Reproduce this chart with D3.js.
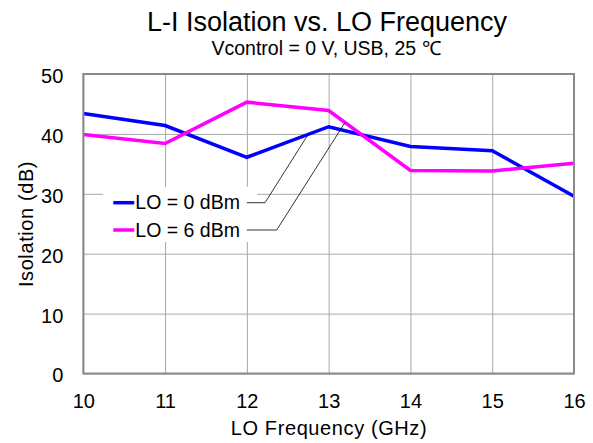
<!DOCTYPE html>
<meta charset="utf-8">
<style>
body { margin: 0; background: #fff; }
svg text { font-family: "Liberation Sans", Arial, sans-serif; fill: #000; }
.grid line { stroke: #a8a8a8; stroke-width: 1px; }
.grid path { display: none; }
.tick-labels path, .tick-labels line { display: none; }
.line { fill: none; stroke-width: 3.5px; stroke-linejoin: miter; }
</style>
<body>
<script src="https://cdn.jsdelivr.net/npm/d3@7"></script>
<script>

// data
var freqs = [10, 11, 12, 13, 14, 15, 16];
var lo0dBm = [43.4, 41.4, 36.1, 41.2, 37.9, 37.2, 29.6];
var lo6dBm = [39.9, 38.4, 45.3, 43.9, 33.9, 33.8, 35.1];
var yTicks = [0, 10, 20, 30, 40, 50];
var seriesNames = ["LO = 0 dBm", "LO = 6 dBm"];
var seriesColors = ["#0000ff", "#ff00ff"];
// where each legend leader touches its line (GHz)
var leaderAt = [12.75, 13.2];

var margin = {top: 74, right: 19, bottom: 69.5, left: 83.3},
    width = 593 - margin.left - margin.right,
    height = 443 - margin.top - margin.bottom;

var x = d3.scaleLinear().domain([10, 16]).range([0, width]);
var y = d3.scaleLinear().domain([0, 50]).range([height, 0]);

var svg = d3.select("body").append("svg")
    .attr("width", 593)
    .attr("height", 443);

// titles
svg.append("text")
    .attr("x", 327).attr("y", 30.5)
    .attr("text-anchor", "middle")
    .style("font-size", "27px")
    .text("L-I Isolation vs. LO Frequency");

svg.append("text")
    .attr("x", 326).attr("y", 55)
    .attr("text-anchor", "middle")
    .style("font-size", "19.5px")
    .text("Vcontrol = 0 V, USB, 25 \u2103");

var g = svg.append("g")
    .attr("transform", "translate(" + margin.left + "," + margin.top + ")");

// gridlines
g.append("g")
    .attr("class", "grid")
    .call(d3.axisLeft(y).tickValues(yTicks).tickSize(-width).tickFormat(""));

g.append("g")
    .attr("class", "grid")
    .attr("transform", "translate(0," + height + ")")
    .call(d3.axisBottom(x).tickValues(freqs).tickSize(height).tickFormat(""))
    .selectAll("line").attr("y2", -height);

// tick labels
g.append("g")
    .attr("class", "tick-labels")
    .call(d3.axisLeft(y).tickValues(yTicks).tickSize(0).tickPadding(20))
    .selectAll("text")
    .style("font-size", "20px")
    .attr("dy", "0.42em");

g.append("g")
    .attr("class", "tick-labels")
    .attr("transform", "translate(0," + height + ")")
    .call(d3.axisBottom(x).tickValues(freqs).tickSize(0).tickPadding(20).tickFormat(d3.format("d")))
    .selectAll("text")
    .style("font-size", "20px")
    .attr("dy", "0.71em");

// axis titles
svg.append("text")
    .attr("x", 329).attr("y", 435)
    .attr("text-anchor", "middle")
    .style("font-size", "20px")
    .style("letter-spacing", "0.6px")
    .text("LO Frequency (GHz)");

svg.append("text")
    .attr("transform", "translate(33,224) rotate(-90)")
    .attr("text-anchor", "middle")
    .style("font-size", "20px")
    .style("letter-spacing", "0.6px")
    .text("Isolation (dB)");

// series
var series = [lo0dBm, lo6dBm];
var line = d3.line()
    .x(function(d, i) { return x(freqs[i]); })
    .y(function(d) { return y(d); });

g.selectAll(".line")
    .data(series)
    .enter().append("path")
    .attr("class", "line")
    .style("stroke", function(d, i) { return seriesColors[i]; })
    .attr("d", line);

// plot border
g.append("rect")
    .attr("width", width).attr("height", height)
    .attr("fill", "none")
    .attr("stroke", "#8a8a8a")
    .attr("stroke-width", 2);

// legend
var legend = g.append("g");
legend.append("rect")
    .attr("x", 20).attr("y", 113)
    .attr("width", 154).attr("height", 55)
    .attr("fill", "#fff");

var rowY = [128.7, 156];
var elbowX = [181.7, 193.4];

function valueAt(vals, f) {
    var i = Math.min(Math.floor(f - freqs[0]), vals.length - 2);
    var t = f - freqs[i];
    return vals[i] + t * (vals[i + 1] - vals[i]);
}

seriesNames.forEach(function(name, i) {
    legend.append("line")
        .attr("x1", 30).attr("x2", 51)
        .attr("y1", rowY[i]).attr("y2", rowY[i])
        .attr("stroke", seriesColors[i])
        .attr("stroke-width", 3.5);
    legend.append("text")
        .attr("x", 52).attr("y", rowY[i] + 6.7)
        .style("font-size", "19.5px")
        .text(name);
    var px = x(leaderAt[i]), py = y(valueAt(series[i], leaderAt[i]));
    legend.append("polyline")
        .attr("points", [[163.5, rowY[i]], [elbowX[i], rowY[i]], [px, py]].join(" "))
        .attr("fill", "none")
        .attr("stroke", "#000")
        .attr("stroke-width", 0.8);
});

</script>
</body>
